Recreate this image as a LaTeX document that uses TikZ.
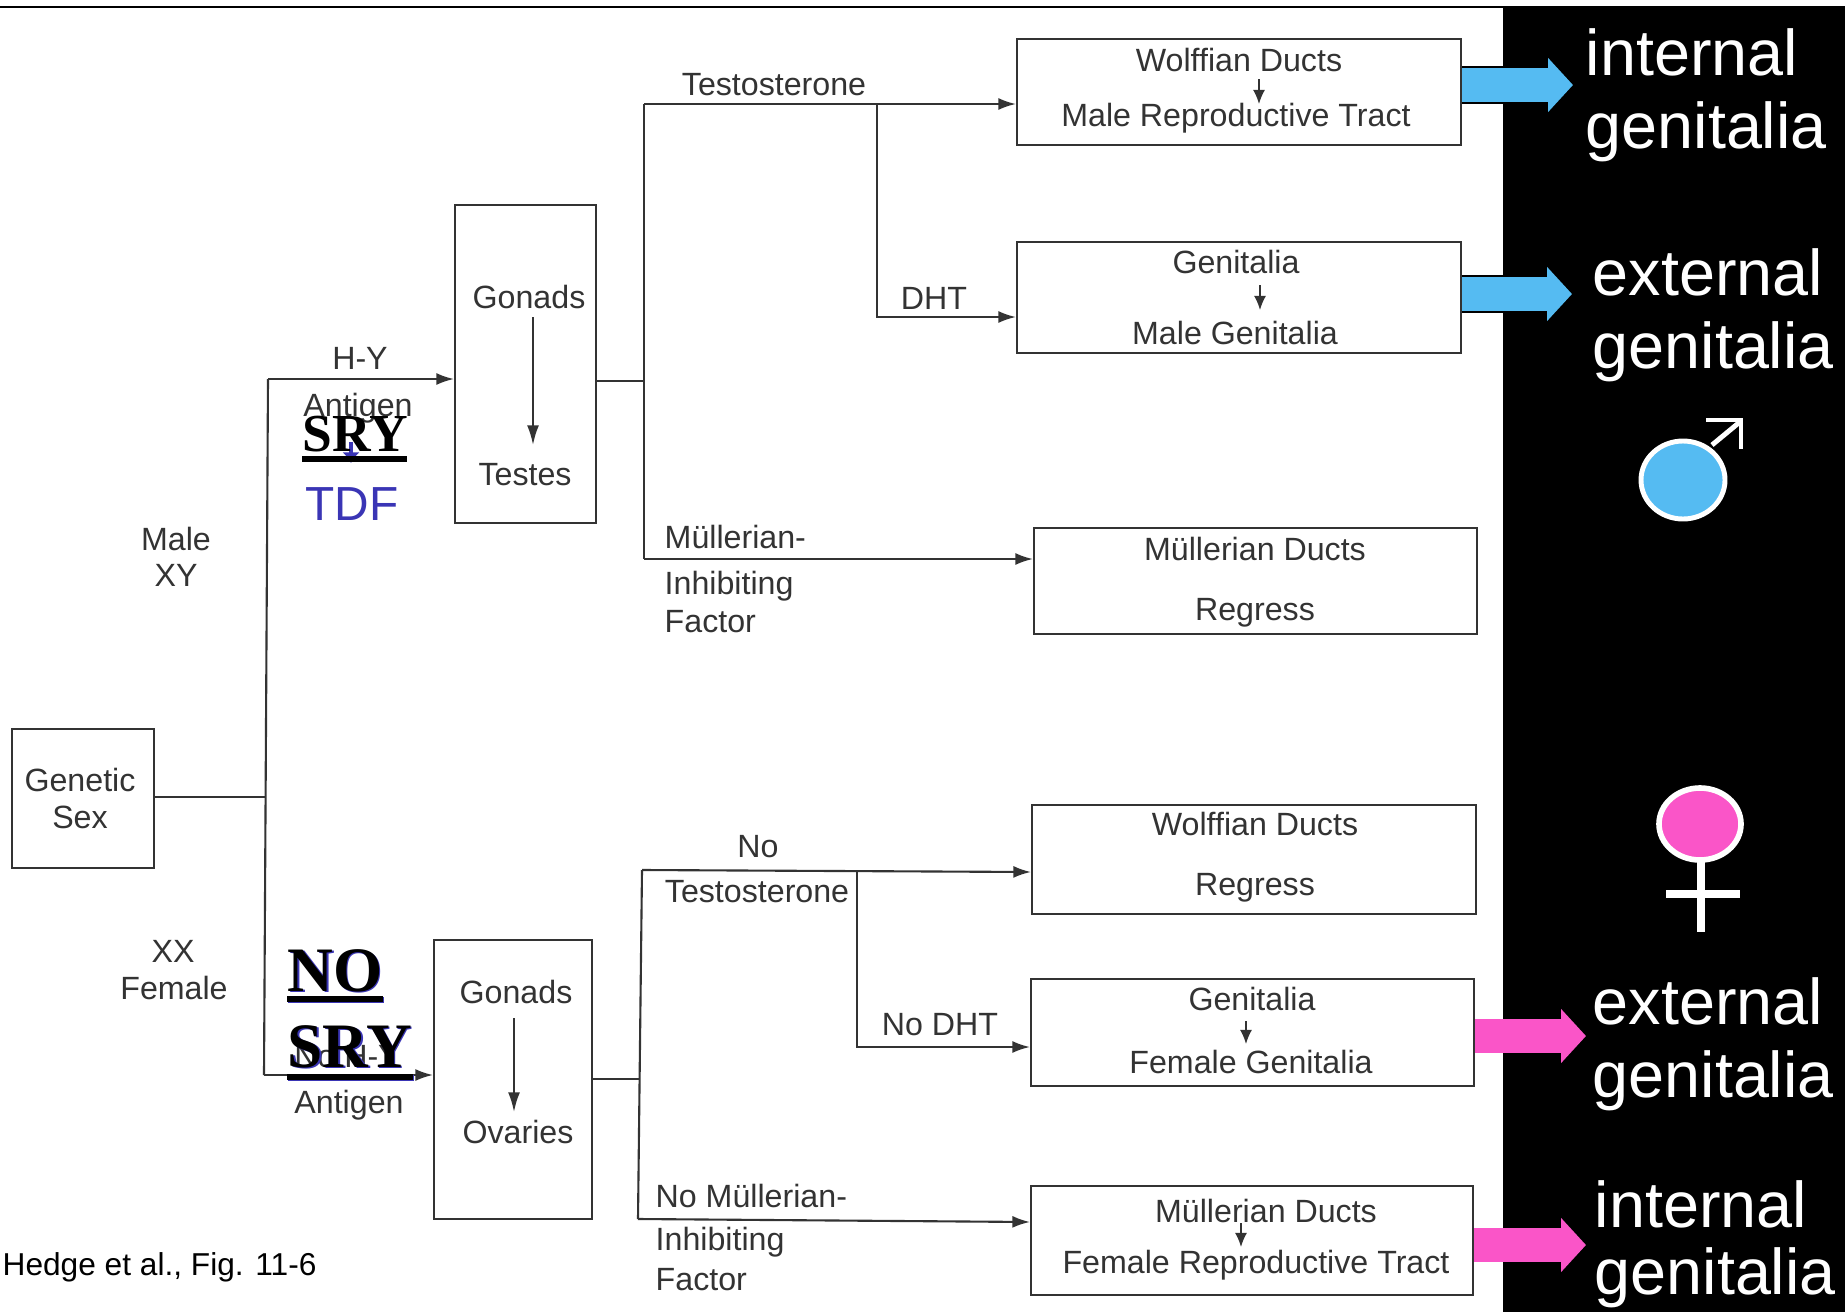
\documentclass[tikz,border=0pt]{standalone}
\usepackage{fontspec}
\setmainfont{Liberation Sans}
\newfontfamily\timesfont{Liberation Serif}
\usetikzlibrary{calc}
\usetikzlibrary{arrows.meta}
\definecolor{sexblue}{HTML}{55BBF2}
\definecolor{sexpink}{HTML}{FA55C8}
\definecolor{tdfblue}{HTML}{3A35B5}
\definecolor{inkgrey}{HTML}{333333}
\tikzset{
  flow/.style={draw=inkgrey,line width=0.6pt},
  arr/.style={flow,-{Latex[length=5pt,width=3.4pt]}},
  tallarr/.style={flow,-{Latex[length=5.6pt,width=3.4pt]}},
  tinyarr/.style={draw=inkgrey,line width=0.45pt,-{Latex[length=4pt,width=3.4pt]}},
  organ/.style={draw=inkgrey,line width=0.6pt,fill=white,rectangle,inner sep=0pt},
  lbl/.style={text=inkgrey,font=\fontsize{9.15}{10}\selectfont,inner sep=0pt},
  side/.style={text=white,font=\fontsize{18.4}{20.8}\selectfont,inner sep=0pt,align=left,anchor=west},
  gene/.style={font=\timesfont\bfseries\fontsize{15.2}{15.2}\selectfont,inner sep=0pt,text=black,anchor=base west},
  genebig/.style={gene,font=\timesfont\bfseries\fontsize{18}{18}\selectfont},
  geneline/.style={line width=1.5pt},
  bluearr/.style={preaction={draw=black,line width=10.6pt,-},draw=sexblue,line width=9.4pt,-{Triangle[length=7.1pt,width=15pt]}},
  pinkarr/.style={draw=sexpink,line width=9.8pt,-{Triangle[length=7.1pt,width=15pt]}},
}
\newcommand{\organbox}[5]{\node[organ,minimum width=#4*0.01cm,minimum height=#5*0.01cm,anchor=north west] (#1) at (#2,#3) {};}
\begin{document}
\begin{tikzpicture}[x=0.01cm,y=-0.01cm]
    \useasboundingbox (0,0) rectangle (1845,1312);
    \fill[white] (0,0) rectangle (1845,1312);
    \fill[black] (1503,6) rectangle (1845,1312);
    \draw[black,line width=0.85pt] (0,7) -- (1503,7);
    % boxes
    \organbox{genetic}{11}{728}{142}{139}
    \organbox{testes}{454}{204}{141}{318}
    \organbox{ovaries}{433}{939}{158}{279}
    \organbox{wolffm}{1016}{38}{444}{106}
    \organbox{genm}{1016}{241}{444}{111}
    \organbox{mullm}{1033}{527}{443}{106}
    \organbox{wolfff}{1031}{804}{444}{109}
    \organbox{genf}{1030}{978}{443}{107}
    \organbox{mullf}{1030}{1185}{442}{109}
    % box texts
    \node[lbl] (t1) at (80,780) {Genetic};
    \node[lbl] (t2) at (80,817) {Sex};
    \node[lbl] (gon1) at (529,297) {Gonads};
    \node[lbl] (tes) at (525,475) {Testes};
    \node[lbl] (gon2) at (516,992) {Gonads};
    \node[lbl] (ova) at (518,1132) {Ovaries};
    \node[lbl] (w1) at (1239,60) {Wolffian Ducts};
    \node[lbl] (w2) at (1236,118) {Male Reproductive Tract};
    \node[lbl] (g1) at (1236,262) {Genitalia};
    \node[lbl] (g2) at (1235,333) {Male Genitalia};
    \node[lbl] (m1) at (1255,549) {Müllerian Ducts};
    \node[lbl] (m2) at (1255,613) {Regress};
    \node[lbl] (w3) at (1255,824) {Wolffian Ducts};
    \node[lbl] (w4) at (1255,888) {Regress};
    \node[lbl] (g3) at (1252,999) {Genitalia};
    \node[lbl] (g4) at (1251,1062) {Female Genitalia};
    \node[lbl] (m3) at (1266,1211) {Müllerian Ducts};
    \node[lbl] (m4) at (1256,1265) {Female Reproductive Tract};
    \coordinate (tes1) at (533,317);
    \coordinate (tes2) at (533,445);
    \coordinate (ova1) at (514,1018);
    \coordinate (ova2) at (514,1112);
    \draw[tallarr] (tes1) -- (tes2);
    \draw[tallarr] (ova1) -- (ova2);
    \draw[tinyarr] (1259,79) coordinate (a1) -- ($(a1)+(0,25)$);
    \draw[tinyarr] (1260,285) coordinate (a2) -- ($(a2)+(0,25)$);
    \draw[tinyarr] (1246,1021) coordinate (a3) -- ($(a3)+(0,23)$);
    \draw[tinyarr] (1241,1223) coordinate (a4) -- ($(a4)+(0,24)$);
    % male branch
    \coordinate (jtop) at (268,379);
    \coordinate (jbot) at (264,1075);
    \coordinate (jroot) at (266,797);
    \coordinate (jm) at (644,381);
    \coordinate (jdht) at (877,104);
    \draw[flow] (genetic.east |- jroot) -- (jroot);
    \draw[flow] (jtop) -- (jbot);
    \draw[arr] (jtop) -- (testes.west |- jtop);
    \draw[flow] (testes.east |- jm) -- (jm);
    \draw[arr] (644,104) -- (wolffm.west |- 0,104);
    \draw[flow] (644,104) -- (644,559);
    \draw[arr] (644,559) -- (mullm.west |- 0,559);
    \draw[arr] (jdht) |- (genm.west |- 0,317);
    % female branch
    \coordinate (jf) at (640,1079);
    \coordinate (jndht) at (857,872);
    \draw[arr] (jbot) -- (ovaries.west |- jbot);
    \draw[flow] (ovaries.east |- jf) -- (jf);
    \draw[flow] (642,870) -- (638,1219);
    \draw[arr] (642,870) -- (wolfff.west |- 0,872);
    \draw[arr] (638,1219) -- (mullf.west |- 0,1222);
    \draw[arr] (jndht) |- (genf.west |- 0,1047);
    % branch labels
    \node[lbl] (hy) at (360,358) {H-Y};
    \node[lbl] (ag) at (358,408) {Antigen};
    \node[lbl] (mxy) at (176,539) {Male};
    \node[lbl] (mxy2) at (176,575) {XY};
    \node[lbl] (xxf) at (173,951) {XX};
    \node[lbl] (xxf2) at (174,988) {Female};
    \node[lbl] (nhy) at (347,1057) {No H-Y};
    \node[lbl] (ag2) at (349,1105) {Antigen};
    \node[lbl] (tst) at (774,85) {Testosterone};
    \node[lbl] (dht) at (934,298) {DHT};
    \node[lbl,anchor=west] (mif1) at (664,537) {Müllerian-};
    \node[lbl,anchor=west] (mif2) at (664,586) {Inhibiting};
    \node[lbl,anchor=west] (mif3) at (664,622) {Factor};
    \node[lbl] (not1) at (758,847) {No};
    \node[lbl] (not2) at (757,892) {Testosterone};
    \node[lbl] (nod) at (940,1025) {No DHT};
    \node[lbl,anchor=west] (nm1) at (655,1196) {No Müllerian-};
    \node[lbl,anchor=west] (nm2) at (655,1242) {Inhibiting};
    \node[lbl,anchor=west] (nm3) at (655,1280) {Factor};
    \node[lbl,text=black,anchor=west,font=\fontsize{9}{10}\selectfont] (fig) at (2,1267) {Hedge et al., Fig. 11-6};
    % overlays
    \draw[tdfblue,line width=0.9pt,-{Latex[length=3pt,width=5pt]}] (351,442) -- (351,463);
    \node[gene] (sry) at (302,451) {SRY};
    \draw[geneline] (302,459) -- (407,459);
    \node[text=tdfblue,font=\fontsize{13.6}{14}\selectfont,inner sep=0pt] (tdf) at (352,504) {TDF};
    \node[genebig,text=tdfblue] at (288.5,992) {NO};
    \draw[geneline,tdfblue] (288,1000) -- (384,1000);
    \node[genebig] (no) at (287,991) {NO};
    \draw[geneline] (287,999) -- (383,999);
    \node[genebig,text=tdfblue] at (288.5,1068) {SRY};
    \draw[geneline,tdfblue] (288,1078) -- (414,1078);
    \node[genebig] (nsry) at (287,1067) {SRY};
    \draw[geneline] (287,1077) -- (413,1077);
    % big arrows
    \coordinate (im) at (1573,85);
    \coordinate (em) at (1572,294);
    \coordinate (ef) at (1586,1036);
    \coordinate (if) at (1586,1245);
    \draw[bluearr] (wolffm.east |- im) -- (im);
    \draw[bluearr] (genm.east |- em) -- (em);
    \draw[pinkarr] (genf.east |- ef) -- (ef);
    \draw[pinkarr] (mullf.east |- if) -- (if);
    \node[side] (s1) at (1585,95) {internal\\genitalia};
    \node[side] (s2) at (1592,315) {external\\genitalia};
    \node[side] (s3) at (1592,1044) {external\\genitalia};
    \node[side] (s4) at (1594,1244) {internal\\[-1.8pt]genitalia};
    % symbols
    \draw[white,line width=1.4pt] (1712,445) -- (1741,421);
    \draw[white,line width=1.4pt] (1706,420) -- (1741,420) -- (1741,449);
    \draw[white,line width=1.4pt,fill=sexblue] (1683,480) ellipse (42 and 39);
    \draw[white,line width=2.3pt] (1701,860) -- (1701,932);
    \draw[white,line width=2.1pt] (1666,894) -- (1740,894);
    \draw[white,line width=1.6pt,fill=sexpink] (1700,824) ellipse (41 and 36);
\end{tikzpicture}
\end{document}
